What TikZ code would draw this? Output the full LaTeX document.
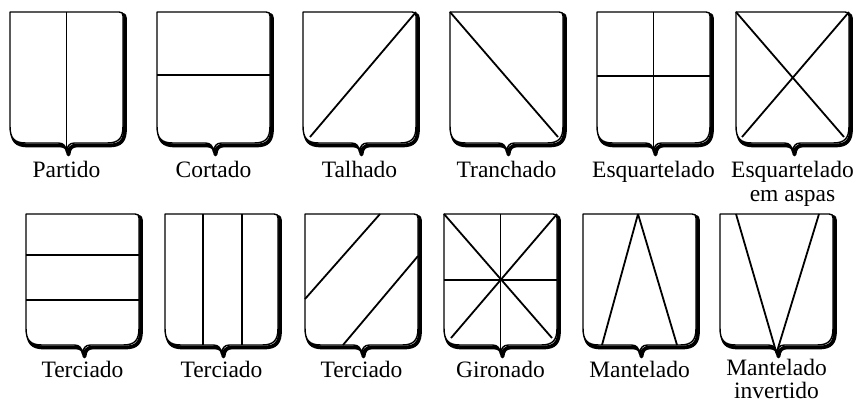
\documentclass[tikz,border=0pt]{standalone}
\usepackage{fontspec}
\setmainfont{Liberation Serif}
\usepackage{tikz}
\usetikzlibrary{positioning}

% outline of one shield, top left corner at the origin, y pointing down
\newcommand{\heater}{(0,0) -- (109,0) .. controls (112,0) and (113,1) .. (113,4)
  -- (113,114) .. controls (113,126) and (109,131) .. (97,131)
  -- (64.5,131) .. controls (59.5,131) and (57,134) .. (56.5,140)
  .. controls (56,134) and (53.5,131) .. (48.5,131)
  -- (16,131) .. controls (4,131) and (0,126) .. (0,114) -- cycle}

\begin{document}
\begin{tikzpicture}[x=1pt,y=-1pt,
  rim/.style={draw=black,line width=1.4pt,fill=white,line join=round},
  shade/.style={draw=black,line width=3.8pt,line join=round},
  cut/.style={draw=black,line width=1.8pt},
  lbl/.style={font=\fontsize{23.5}{24}\selectfont,align=center,anchor=base,inner sep=0pt}]
\useasboundingbox (0,0) rectangle (861,402);
% x/y of the top left corner, name, label, baseline below the top
\foreach \x/\y/\nm/\lbl/\drop in {10/12/partido/Partido/165, 157/12/cortado/Cortado/165,
    303/12/talhado/Talhado/165, 450/12/tranchado/Tranchado/165,
    597/12/esquart/Esquartelado/165, 736/12/aspas/{Esquartelado\\em aspas}/189,
    26/214/terch/Terciado/163, 165/214/tercv/Terciado/163, 305/214/tercd/Terciado/163,
    444/214/gironado/Gironado/163, 583/214/mantelado/Mantelado/163,
    720/214/mantinv/{Mantelado\\[-1pt]invertido}/184} {
  \begin{scope}[shift={(\x,\y)}]
    \draw[shade,shift={(2,2.5)}] \heater;
    \draw[rim] \heater;
  \end{scope}
  \node[lbl] (\nm) at (\x+56.5,\y+\drop) {\lbl};
}
% partitions
\begin{scope}[shift={(10,12)}]
  \draw[cut] (56.5,0) -- (56.5,139);
\end{scope}
\begin{scope}[shift={(157,12)}]
  \draw[cut] (0,63) -- (113,63);
\end{scope}
\begin{scope}[shift={(303,12)}]
  \draw[cut] (113,0) -- (7,125);
\end{scope}
\begin{scope}[shift={(450,12)}]
  \draw[cut] (0,0) -- (108,125);
\end{scope}
\begin{scope}[shift={(597,12)}]
  \draw[cut] (56.5,0) -- (56.5,139);
  \draw[cut] (0,64) -- (113,64);
\end{scope}
\begin{scope}[shift={(736,12)}]
  \draw[cut] (0,0) -- (108,125);
  \draw[cut] (113,0) -- (6,125);
\end{scope}
\begin{scope}[shift={(26,214)}]
  \draw[cut] (0,41) -- (113,41);
  \draw[cut] (0,86) -- (113,86);
\end{scope}
\begin{scope}[shift={(165,214)}]
  \draw[cut] (38,0) -- (38,131);
  \draw[cut] (77,0) -- (77,131);
\end{scope}
\begin{scope}[shift={(305,214)}]
  \draw[cut] (75,0) -- (0,85);
  \draw[cut] (113,42) -- (38,131);
\end{scope}
\begin{scope}[shift={(444,214)}]
  \draw[cut] (0,66) -- (113,66);
  \draw[cut] (56.5,0) -- (56.5,139);
  \draw[cut] (0,0) -- (108,124);
  \draw[cut] (113,0) -- (7,124);
\end{scope}
\begin{scope}[shift={(583,214)}]
  \draw[cut] (55,0) -- (19,131);
  \draw[cut] (55,0) -- (94,131);
\end{scope}
\begin{scope}[shift={(720,214)}]
  \draw[cut] (16,0) -- (56.5,139);
  \draw[cut] (99,0) -- (56.5,139);
\end{scope}
\end{tikzpicture}
\end{document}
